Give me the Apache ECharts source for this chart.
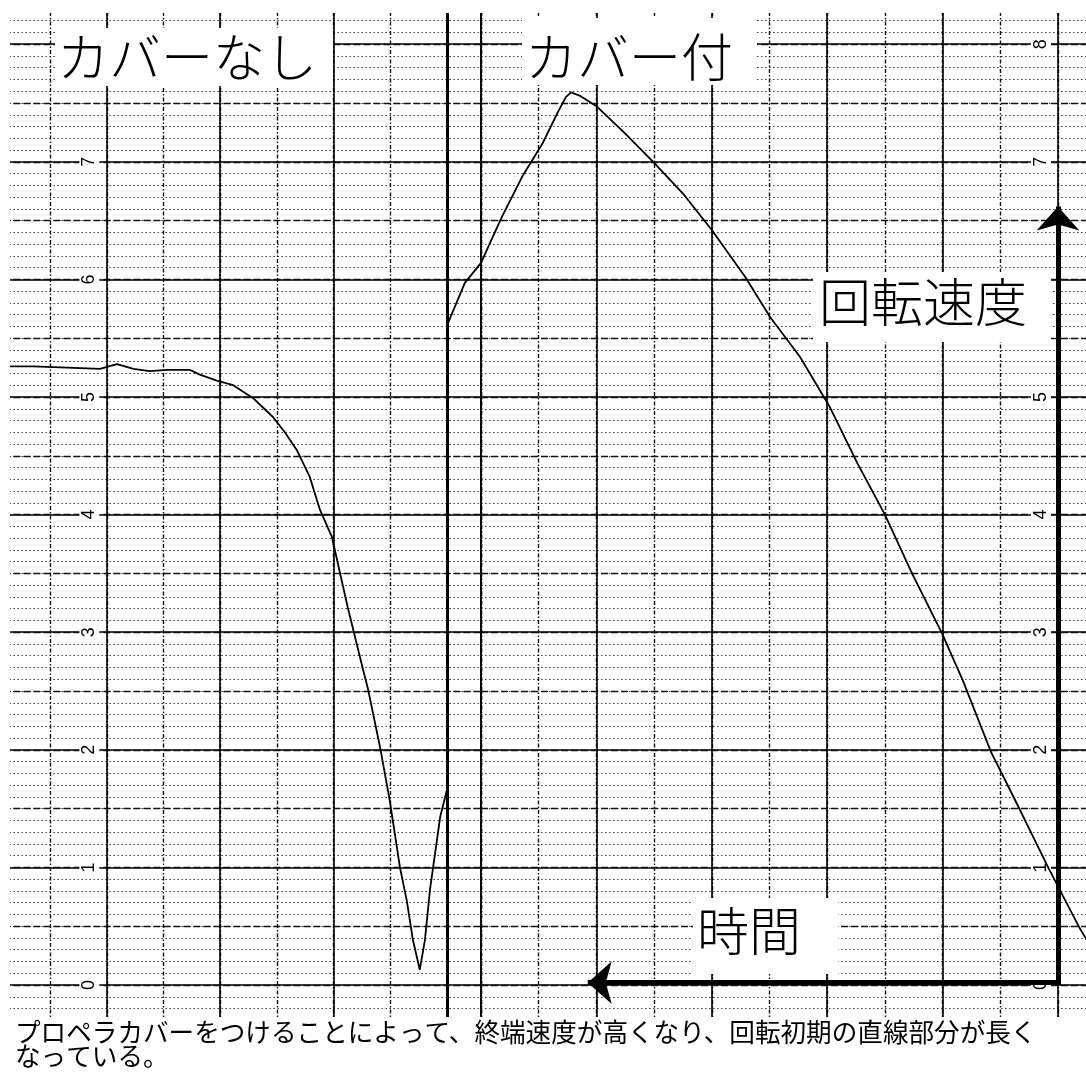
<!DOCTYPE html>
<html><head><meta charset="utf-8">
<script src="https://cdn.jsdelivr.net/npm/echarts@6/dist/echarts.min.js"></script>
<style>html,body{margin:0;padding:0;background:#fff}#c{width:1086px;height:1072px}</style>
</head><body><div id="c"></div>
<script>
// ---- data ----
const yTickLabels = ['0','1','2','3','4','5','6','7','8'];
// left panel: without cover (time in grid divisions, 0 = panel divider)
const leftX = [-7.71,-7.30,-6.70,-6.12,-5.82,-5.53,-5.24,-4.94,-4.53,-4.36,-4.06,-3.77,-3.42,-3.07,-2.86,-2.65,-2.42,-2.24,-2.03,-1.75,-1.48,-1.39,-1.18,-1.01,-0.83,-0.71,-0.60,-0.48,-0.39,-0.30,-0.12,0.0];
const leftY = [5.26,5.26,5.25,5.24,5.28,5.24,5.22,5.23,5.23,5.19,5.14,5.10,4.99,4.83,4.70,4.55,4.32,4.04,3.81,3.21,2.68,2.51,2.02,1.57,1.00,0.72,0.38,0.13,0.38,0.81,1.43,1.66];
// right panel: with cover
const rightX = [-0.57,-0.28,0.00,0.36,0.71,1.07,1.33,1.47,1.56,1.72,2.01,2.50,3.00,3.50,4.00,4.58,5.01,5.53,6.05,6.52,7.00,7.47,7.99,8.35,8.84,9.34,9.84,10.38,10.55];
const rightY = [5.63,5.97,6.14,6.53,6.87,7.16,7.42,7.55,7.59,7.56,7.47,7.24,6.99,6.73,6.42,6.02,5.68,5.34,4.91,4.44,4.00,3.50,2.99,2.59,1.98,1.49,0.99,0.48,0.34];
const panelTitles = ['カバーなし', 'カバー付'];
const axisTitles = ['回転速度', '時間'];
const captionLines = ['プロペラカバーをつけることによって、終端速度が高くなり、回転初期の直線部分が長く', 'なっている。'];
const dividerX = 0;
const arrowV = [[10, 0], [10, 6.62]];
const arrowH = [[10, 0.02], [1.85, 0.02]];

// ---- styles ----
const BLACK = '#000';
const solid = {color: BLACK, width: 1.6, type: 'solid'};
const dashDot = {color: '#111', width: 1.4, type: [4, 2, 1.5, 2]};
const halfDash = {color: '#111', width: 1.4, type: [7, 3]};
const dotted = {color: '#444', width: 1, type: [1.6, 2.4]};

const gridBase = {top: -73.4, height: 1176, outerBoundsMode: 'none', containLabel: false};
const grids = [
  Object.assign({left: -6.6, width: 487.62}, gridBase),   // left panel paper
  Object.assign({left: 481, width: 634.7}, gridBase),     // right panel paper
  Object.assign({left: 423.3, width: 692.4}, gridBase)    // right panel trace (same scale, starts one division earlier)
];
const xRanges = [[-8, 0.6], [0, 11]];

const xAxes = [], yAxes = [];
[0, 1].forEach(g => {
  const [mn, mx] = xRanges[g];
  const base = {type: 'value', gridIndex: g, min: mn, max: mx, axisLine: {show: false}, axisTick: {show: false}, axisLabel: {show: false}};
  xAxes.push(Object.assign({}, base, {interval: 1, splitLine: {show: true, lineStyle: dashDot}, z: 1}));
  xAxes.push(Object.assign({}, base, {interval: 2, splitLine: {show: true, lineStyle: solid}, z: 2}));
  const ybase = {type: 'value', gridIndex: g, min: -1, max: 9, position: 'left', axisLine: {show: false}, axisTick: {show: false}, axisLabel: {show: false}};
  yAxes.push(Object.assign({}, ybase, {interval: 1, splitLine: {show: true, lineStyle: solid}, minorTick: {show: false, splitNumber: 10}, minorSplitLine: {show: true, lineStyle: dotted}, z: 1}));
  yAxes.push(Object.assign({}, ybase, {interval: 0.5, splitLine: {show: true, lineStyle: halfDash}, z: 1}));
  yAxes.push(Object.assign({}, ybase, {interval: 1, splitLine: {show: false}, z: 3,
    axisLabel: {show: true, inside: true, margin: g === 0 ? 86 : 550, rotate: 90, fontSize: 18,
      fontFamily: 'Liberation Sans', color: BLACK, backgroundColor: '#fff', padding: [1, 2],
      formatter: v => yTickLabels.indexOf(String(v)) >= 0 ? String(v) : ''}}));
});
// hidden axes for the right-panel trace
xAxes.push({type: 'value', gridIndex: 2, min: -1, max: 11, show: false, splitLine: {show: false}});
yAxes.push({type: 'value', gridIndex: 2, min: -1, max: 9, show: false, splitLine: {show: false}});

const zip = (a, b) => a.map((v, i) => [v, b[i]]);

const chart = echarts.init(document.getElementById('c'), null, {renderer: 'canvas'});
const titleFont = '300 52px "Noto Sans CJK JP"';
chart.setOption({
  animation: false,
  backgroundColor: '#fff',
  grid: grids,
  xAxis: xAxes,
  yAxis: yAxes,
  series: [
    {type: 'line', xAxisIndex: 0, yAxisIndex: 0, data: zip(leftX, leftY), symbol: 'none', z: 6,
      lineStyle: {color: BLACK, width: 1.8},
      markLine: {silent: true, symbol: 'none', label: {show: false}, lineStyle: {color: BLACK, width: 3, type: 'solid'},
        data: [{xAxis: dividerX}]}},
    {type: 'line', xAxisIndex: 4, yAxisIndex: 6, data: zip(rightX, rightY), symbol: 'none', clip: false, z: 6,
      lineStyle: {color: BLACK, width: 1.8},
      markLine: {silent: true, symbol: ['none', 'arrow'], symbolSize: [32, 24], label: {show: false},
        lineStyle: {color: BLACK, width: 5, type: 'solid'},
        data: [[{coord: arrowV[0]}, {coord: arrowV[1]}], [{coord: arrowH[0]}, {coord: arrowH[1]}]]}}
  ],
  graphic: [
    {type: 'rect', z: 100, shape: {x: 0, y: 0, width: 1086, height: 13}, style: {fill: '#fff'}},
    {type: 'rect', z: 100, shape: {x: 0, y: 0, width: 10, height: 1072}, style: {fill: '#fff'}},
    {type: 'rect', z: 100, shape: {x: 0, y: 1017, width: 1086, height: 55}, style: {fill: '#fff'}},
    {type: 'rect', z: 100, shape: {x: 55, y: 28, width: 278, height: 58}, style: {fill: '#fff'}},
    {type: 'text', z: 101, x: 57, y: 31, style: {text: panelTitles[0], font: titleFont, fill: BLACK, verticalAlign: 'top'}},
    {type: 'rect', z: 100, shape: {x: 522, y: 18, width: 235, height: 67}, style: {fill: '#fff'}},
    {type: 'text', z: 101, x: 525, y: 31, style: {text: panelTitles[1], font: titleFont, fill: BLACK, verticalAlign: 'top'}},
    {type: 'rect', z: 100, shape: {x: 813, y: 272, width: 238, height: 70}, style: {fill: '#fff'}},
    {type: 'text', z: 101, x: 819, y: 276, style: {text: axisTitles[0], font: titleFont, fill: BLACK, verticalAlign: 'top'}},
    {type: 'rect', z: 100, shape: {x: 693, y: 898, width: 145, height: 76}, style: {fill: '#fff'}},
    {type: 'text', z: 101, x: 697, y: 905, style: {text: axisTitles[1], font: titleFont, fill: BLACK, verticalAlign: 'top'}},
    {type: 'text', z: 101, x: 15, y: 1020, style: {text: captionLines.join('\n'), font: '25.6px "Noto Sans CJK JP"', lineHeight: 24, fill: BLACK, verticalAlign: 'top'}}
  ]
});
</script></body></html>
